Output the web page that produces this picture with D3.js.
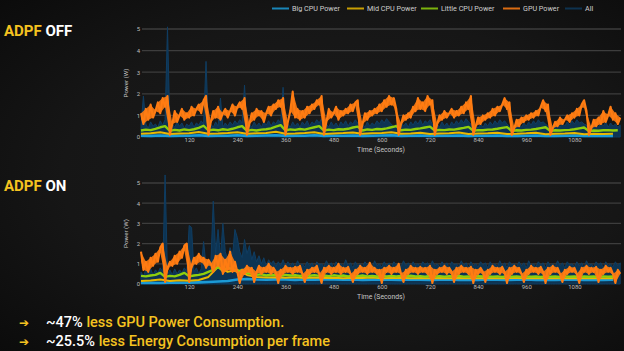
<!DOCTYPE html>
<html><head><meta charset="utf-8">
<script src="https://cdn.jsdelivr.net/npm/d3@7"></script>
<style>
html,body{margin:0;padding:0;background:#121212;}
svg{display:block;}
</style></head><body>
<svg id="c" width="624" height="351"></svg>
<script>
// ---------- DATA ----------
const seriesNames = ["Big CPU Power","Mid CPU Power","Little CPU Power","GPU Power","All"];
const seriesColors = ["#1b9ad6","#e9b800","#8fcf0c","#ff7c12","#0e3a5c"];
const xTicks = [120,240,360,480,600,720,840,960,1080];
const yTicks = [0,1,2,3,4,5];
const xTitle = "Time (Seconds)";
const yTitle = "Power (W)";
// sampling interval (seconds) of each series
const gpuStep = 6, allStep = 6, littleStep = 12, midStep = 24, bigStep = 24;

// ADPF OFF
const gpuOff = [
1.1,0.6,1.3,0.8,1.5,0.9,1.2,1.6,1.1,1.8,1.4,1.9,
0.1,0.6,1.2,0.7,1.0,1.3,0.8,1.1,0.9,1.4,1.0,1.3,1.5,1.1,1.7,1.9,
0.1,0.7,1.2,0.9,1.4,0.8,1.1,1.3,0.9,1.2,1.5,1.0,1.4,1.6,1.3,1.8,
0.1,0.6,1.1,0.8,1.3,1.0,1.2,0.7,1.1,1.4,1.0,1.5,1.3,1.7,1.4,1.8,
0.1,0.7,1.2,2.1,0.9,1.3,0.8,1.2,0.9,1.4,1.1,1.5,1.3,1.7,1.5,1.9,
0.1,0.7,1.3,0.9,1.1,1.4,0.8,1.2,1.0,1.3,1.1,1.5,1.2,1.6,1.7,
0.1,0.6,1.1,0.8,1.2,1.0,1.3,1.1,1.5,1.2,1.7,1.4,1.9,1.5,1.8,1.3,
0.1,0.6,1.0,0.8,1.1,0.9,1.4,1.2,1.8,1.3,1.6,1.2,1.9,1.5,1.7,
0.1,0.6,1.0,0.8,1.2,0.9,1.1,1.3,0.9,1.2,1.0,1.4,1.1,1.6,1.3,1.9,
0.1,0.5,0.9,0.6,1.0,0.8,1.1,0.9,1.3,1.0,1.4,1.2,1.5,1.8,1.3,1.6,
0.1,0.4,0.8,0.5,0.9,0.7,1.0,0.8,1.1,0.9,1.2,1.0,1.4,1.7,1.2,1.5,
0.1,0.4,0.7,0.5,0.9,0.6,0.8,1.0,0.7,1.1,0.9,1.3,1.0,1.5,1.7,1.2,
0.1,0.4,0.8,0.5,0.9,0.6,1.2,0.7,1.0,1.4,0.8,1.1,0.6,0.9
];
const allOff = [
0.5,1.9,0.6,0.4,0.7,0.5,0.6,0.45,0.75,0.55,
0.8,5.1,0.4,0.6,0.45,0.7,0.5,0.65,0.4,0.6,
0.5,0.7,0.45,0.65,0.55,0.75,0.6,3.5,0.4,0.6,
0.45,0.7,0.5,1.8,0.45,0.65,0.5,0.7,0.55,0.75,
0.6,0.8,0.65,2.4,0.4,0.6,0.45,0.7,0.5,0.65,
0.45,0.7,0.55,0.75,0.5,0.7,0.6,0.8,0.65,2.3,
0.4,0.6,0.45,0.7,0.5,0.65,0.45,0.7,0.55,0.75,
0.5,0.7,0.6,0.8,0.65,0.85,0.4,0.6,0.45,0.7,
0.5,0.65,0.45,0.7,0.55,0.75,0.5,0.7,0.6,0.8,
0.65,0.4,0.6,0.45,0.7,0.5,0.65,0.55,0.75,0.6,
0.8,0.65,0.85,0.7,0.6,0.4,0.6,0.45,0.7,0.5,
0.65,0.45,0.7,0.55,0.75,0.6,0.8,0.55,0.75,0.65,
0.8,0.6,0.4,0.6,0.45,0.7,0.5,0.65,0.45,0.7,
0.55,0.75,0.6,0.8,0.65,0.85,0.7,0.6,0.35,0.55,
0.4,0.6,0.45,0.65,0.5,0.7,0.55,0.75,0.6,0.8,
0.65,0.75,0.6,0.5,0.35,0.55,0.4,0.6,0.45,0.65,
0.5,0.7,0.55,0.75,0.6,0.8,0.65,0.7,0.6,0.5,
0.35,0.55,0.4,0.6,0.45,0.65,0.5,0.7,0.55,0.75,
0.6,0.8,0.65,0.7,0.6,0.55,0.35,0.55,0.4,0.6,
0.45,0.65,0.5,0.7,0.45,0.65,0.5,0.6,0.45,0.55
];
const littleOff = [
0.30,0.34,0.32,0.38,0.45,0.50,
0.28,0.33,0.30,0.35,0.32,0.36,0.42,0.52,
0.30,0.34,0.31,0.36,0.33,0.38,0.45,0.50,
0.28,0.33,0.30,0.34,0.36,0.40,0.48,0.55,
0.30,0.35,0.33,0.37,0.34,0.40,0.45,0.50,
0.30,0.34,0.32,0.36,0.35,0.38,0.44,0.48,
0.30,0.35,0.33,0.37,0.36,0.40,0.45,0.50,
0.31,0.34,0.33,0.37,0.40,0.44,0.48,
0.30,0.33,0.32,0.35,0.34,0.38,0.42,0.47,
0.29,0.32,0.31,0.34,0.35,0.38,0.42,0.46,
0.28,0.31,0.30,0.33,0.34,0.37,0.41,0.45,
0.28,0.31,0.30,0.32,0.33,0.36,0.40,0.44,
0.27,0.30,0.29,0.31,0.32,0.30,0.31
];
const midOff = [
0.15,0.17,0.22,0.14,0.16,0.17,0.23,0.15,0.16,0.18,0.22,0.15,0.17,0.18,0.24,
0.15,0.16,0.18,0.22,0.14,0.16,0.18,0.21,0.15,0.17,0.18,0.22,0.15,0.16,0.20,
0.14,0.16,0.17,0.21,0.14,0.16,0.17,0.20,0.14,0.15,0.17,0.20,0.13,0.15,0.16,
0.19,0.13,0.15,0.14,0.15
];
const bigOff = [
0.06,0.05,0.07,0.05,0.06,0.06,0.08,0.05,0.06,0.06,0.08,0.05,0.06,0.07,0.08,
0.05,0.06,0.06,0.08,0.05,0.06,0.06,0.07,0.05,0.06,0.07,0.08,0.05,0.06,0.07,
0.05,0.06,0.06,0.07,0.05,0.06,0.06,0.07,0.05,0.05,0.06,0.07,0.05,0.05,0.06,
0.07,0.05,0.05,0.06,0.05
];

// ADPF ON
const gpuOn = [
1.6,0.7,1.1,0.6,1.3,0.9,1.5,1.1,1.8,2.0,
0.1,0.8,1.1,0.9,1.4,1.0,1.6,1.3,1.9,2.0,
0.1,0.9,1.3,1.0,1.5,1.1,1.3,0.8,1.2,
1.0,0.6,1.4,0.9,1.5,0.5,1.2,0.7,1.6,0.6,1.1,
0.6,0.05,0.7,0.5,0.9,0.6,0.8,0.1,0.6,0.9,
0.5,0.8,0.6,1.0,0.5,0.8,0.6,0.05,0.7,0.5,
0.9,0.6,0.8,0.5,0.85,0.6,0.9,0.5,0.1,0.7,
0.5,0.8,0.6,0.9,0.5,0.05,0.8,0.6,0.9,0.5,
0.8,0.6,1.0,0.5,0.8,0.6,0.85,0.5,0.1,0.7,
0.5,0.9,0.6,0.8,0.5,1.05,0.6,0.8,0.5,0.7,
0.05,0.8,0.6,0.9,0.5,0.8,0.6,1.0,0.5,0.1,
0.7,0.5,0.9,0.6,0.8,0.5,0.85,0.6,0.8,0.5,
0.9,0.05,0.7,0.5,0.8,0.6,0.9,0.5,0.8,0.6,
0.1,0.8,0.5,0.9,0.6,0.8,0.5,0.85,0.05,0.7,
0.5,0.8,0.6,0.1,0.7,0.5,0.9,0.6,0.8,0.5,
0.85,0.6,0.05,0.8,0.5,0.9,0.6,0.8,0.5,0.1,
0.7,0.5,0.9,0.6,0.8,0.5,0.85,0.6,0.05,0.8,
0.5,0.9,0.6,0.8,0.5,0.1,0.7,0.5,0.85,0.6,
0.8,0.5,0.05,0.8,0.6,0.9,0.5,0.8,0.6,0.85,
0.1,0.7,0.5,0.9,0.6,0.8,0.5,0.05,0.7,0.5
];
const allOn = [
0.6,0.4,0.7,0.5,0.75,0.45,0.7,0.55,0.8,0.6,
5.4,0.5,0.7,0.45,0.75,0.5,0.7,0.55,0.8,0.6,
2.9,2.8,0.6,0.8,0.5,0.75,2.1,0.9,1.2,1.0,
4.1,1.5,2.7,1.3,3.0,1.6,1.2,1.8,1.4,2.7,
2.3,1.6,1.3,2.2,1.5,1.9,1.2,1.6,1.1,1.4,
1.0,1.3,0.9,1.2,1.0,1.15,0.85,1.1,0.9,1.2,
0.85,1.1,0.9,1.05,0.8,1.15,0.9,1.0,0.85,1.1,
0.9,1.05,0.8,1.1,0.95,1.0,0.85,1.15,0.9,1.05,
0.8,1.1,0.9,1.0,0.85,1.2,0.9,1.05,0.8,1.1,
0.9,1.0,0.85,1.1,0.95,1.05,0.8,1.15,0.9,1.0,
0.85,1.1,0.9,1.05,0.8,1.1,0.95,1.0,0.85,1.15,
0.9,1.05,0.8,1.1,0.9,1.0,0.85,1.1,0.95,1.05,
0.8,1.15,0.9,1.0,0.85,1.1,0.9,1.05,0.8,1.1,
0.95,1.0,0.85,1.15,0.9,1.05,0.8,1.1,0.9,1.0,
0.85,1.1,0.95,1.05,0.8,1.1,0.9,1.0,0.85,1.15,
0.9,1.05,0.8,1.1,0.95,1.0,0.85,1.1,0.9,1.05,
0.8,1.15,0.9,1.0,0.85,1.1,0.95,1.05,0.8,1.1,
0.9,1.0,0.85,1.15,0.9,1.05,0.8,1.1,0.95,1.0,
0.85,1.1,0.9,1.05,0.8,1.15,0.9,1.0,0.85,1.1,
0.95,1.05,0.8,1.1,0.9,1.0,0.85,1.1,0.9,1.05
];
const littleOn = [
0.40,0.38,0.42,0.45,0.55,
0.35,0.40,0.38,0.45,0.55,
0.38,0.42,0.45,0.50,0.60,
0.70,0.85,0.65,0.80,0.75,0.60,0.70,0.55,
0.50,0.45,0.48,0.42,0.46,0.44,0.40,0.45,0.42,0.44,
0.40,0.43,0.41,0.44,0.40,0.42,0.39,0.43,0.40,0.42,
0.38,0.41,0.39,0.42,0.38,0.40,0.37,0.41,0.38,0.40,
0.37,0.40,0.38,0.41,0.37,0.39,0.36,0.40,0.37,0.39,
0.36,0.39,0.37,0.40,0.36,0.38,0.36,0.39,0.37,0.38,
0.36,0.38,0.35,0.39,0.36,0.38,0.35,0.38,0.36,0.37,
0.35,0.38,0.36,0.37,0.35,0.38,0.36,0.37,0.35,0.37,
0.36,0.37,0.35,0.38,0.36,0.37,0.36
];
const midOn = [
0.15,0.17,0.22,0.15,0.18,0.16,0.20,
0.35,0.85,0.60,0.70,0.45,
0.35,0.32,0.34,0.31,0.33,0.30,0.32,0.30,0.31,0.29,
0.31,0.30,0.32,0.29,0.30,0.31,0.29,0.30,0.28,0.30,
0.29,0.30,0.28,0.29,0.30,0.28,0.29,0.30,0.28,0.29,
0.28,0.30,0.29,0.28,0.29,0.28,0.29,0.28
];
const bigOn = [
0.05,0.06,0.05,0.07,0.06,0.06,0.08,
0.10,0.12,0.15,0.22,0.25,
0.22,0.21,0.23,0.22,0.20,0.22,0.21,0.23,0.22,0.21,
0.22,0.20,0.21,0.22,0.21,0.20,0.22,0.21,0.20,0.21,
0.22,0.20,0.21,0.20,0.22,0.21,0.20,0.21,0.22,0.20,
0.21,0.20,0.21,0.22,0.20,0.21,0.20,0.21
];

// ---------- DRAW ----------
const svg = d3.select("#c");
const defs = svg.append("defs");
const rg = defs.append("radialGradient").attr("id","bg").attr("cx","55%").attr("cy","50%").attr("r","75%");
rg.append("stop").attr("offset","0%").attr("stop-color","#1d1d1d");
rg.append("stop").attr("offset","60%").attr("stop-color","#161616");
rg.append("stop").attr("offset","100%").attr("stop-color","#0b0b0b");
svg.append("rect").attr("width",624).attr("height",351).attr("fill","url(#bg)");

const x = d3.scaleLinear().domain([0,1196]).range([141,621]);

function toPts(vals, step){ return vals.map((v,i)=>({t:i*step, v:v})); }
// band swept by the noisy signal: each sample vs. the mean of its neighbours
function envelope(vals, step){
  return vals.map((v,i)=>{
    const a = vals[Math.max(0,i-1)], b = vals[Math.min(vals.length-1,i+1)];
    const m = (a+b)/2;
    return {t:i*step, lo:Math.min(v,m), hi:Math.max(v,m)};
  });
}

function drawPanel(top, bottom, data){
  const y = d3.scaleLinear().domain([0,5]).range([bottom, top]);
  const g = svg.append("g");
  g.selectAll("line.grid").data(yTicks.filter(d=>d>0)).join("line")
    .attr("x1",142).attr("x2",621)
    .attr("y1",d=>y(d)).attr("y2",d=>y(d))
    .attr("stroke","#3d3d3d").attr("stroke-width",1.3);
  const ya = g.append("g").attr("transform","translate(140,0)")
    .call(d3.axisLeft(y).tickValues(yTicks).tickSize(0).tickPadding(0).tickFormat(d3.format("d")));
  ya.select(".domain").remove();
  ya.selectAll("text").attr("fill","#bdbdbd").attr("font-size",6).attr("font-family","Roboto, sans-serif");
  const xa = g.append("g").attr("transform",`translate(0,${bottom+1})`)
    .call(d3.axisBottom(x).tickValues(xTicks).tickSize(0).tickPadding(0).tickFormat(d3.format("d")));
  xa.select(".domain").remove();
  xa.selectAll("text").attr("fill","#bdbdbd").attr("font-size",6).attr("font-family","Roboto, sans-serif");
  g.append("text").attr("x",381).attr("y",bottom+15).attr("text-anchor","middle")
    .attr("fill","#c8c8c8").attr("font-size",6.8).attr("font-family","Roboto, sans-serif").text(xTitle);
  g.append("text").attr("transform",`translate(128,${(top+bottom)/2}) rotate(-90)`).attr("text-anchor","middle")
    .attr("fill","#c8c8c8").attr("font-size",6.2).attr("font-family","Roboto, sans-serif").text(yTitle);

  const line = d3.line().x(d=>x(d.t)).y(d=>y(d.v));
  // All: filled to zero, drawn at the back
  const allArea = d3.area().x(d=>x(d.t)).y0(y(0)).y1(d=>y(d.v));
  g.append("path").datum(toPts(data.all, allStep)).attr("d",allArea)
    .attr("fill","#0d3453").attr("stroke","#0f3d62").attr("stroke-width",1);
  // CPU lines
  [{vals:data.big, step:bigStep, c:seriesColors[0], w:2.6},
   {vals:data.mid, step:midStep, c:seriesColors[1], w:2.0},
   {vals:data.little, step:littleStep, c:seriesColors[2], w:2.4}].forEach(s=>{
    g.append("path").datum(toPts(s.vals,s.step))
      .attr("d",line).attr("fill","none").attr("stroke",s.c)
      .attr("stroke-width",s.w).attr("stroke-linejoin","round");
  });
  // GPU: noise band + line
  const band = d3.area().x(d=>x(d.t)).y0(d=>y(d.lo)).y1(d=>y(d.hi));
  g.append("path").datum(envelope(data.gpu, gpuStep)).attr("d",band)
    .attr("fill",seriesColors[3]).attr("opacity",0.9);
  g.append("path").datum(toPts(data.gpu,gpuStep))
    .attr("d",line).attr("fill","none").attr("stroke",seriesColors[3])
    .attr("stroke-width",2.1).attr("stroke-linejoin","round");
}

drawPanel(29, 137, {gpu:gpuOff, all:allOff, little:littleOff, mid:midOff, big:bigOff});
drawPanel(183, 284, {gpu:gpuOn, all:allOn, little:littleOn, mid:midOn, big:bigOn});

// legend
const legX = [272,347,421,503,565];
const leg = svg.append("g");
seriesNames.forEach((n,i)=>{
  leg.append("line").attr("x1",legX[i]).attr("x2",legX[i]+17).attr("y1",8.5).attr("y2",8.5)
    .attr("stroke",seriesColors[i]).attr("stroke-width",2).attr("opacity",0.85);
  leg.append("text").attr("x",legX[i]+20).attr("y",11).attr("fill","#cfcfcf")
    .attr("font-size",7.2).attr("font-family","Roboto, sans-serif").text(n);
});

// panel titles
function title(yb, word){
  const t = svg.append("text").attr("x",4).attr("y",yb).attr("font-size",15)
    .attr("font-weight",700).attr("font-family","Roboto, sans-serif");
  t.append("tspan").attr("fill","#f5c320").text("ADPF ");
  t.append("tspan").attr("fill","#ffffff").text(word);
}
title(36,"OFF");
title(191,"ON");

// bottom notes
const notes = [["~47%"," less GPU Power Consumption."],["~25.5%"," less Energy Consumption per frame"]];
notes.forEach((n,i)=>{
  const yb = 327 + i*19;
  svg.append("text").attr("x",19).attr("y",yb).attr("fill","#f5c320").attr("font-size",12)
    .attr("font-weight",700).attr("font-family","DejaVu Sans, sans-serif").text("➔");
  const t = svg.append("text").attr("x",46).attr("y",yb).attr("font-size",14.5)
    .attr("font-weight",500).attr("font-family","Roboto, sans-serif");
  t.append("tspan").attr("fill","#ffffff").text(n[0]);
  t.append("tspan").attr("fill","#f5c320").text(n[1]);
});
</script>
</body></html>
